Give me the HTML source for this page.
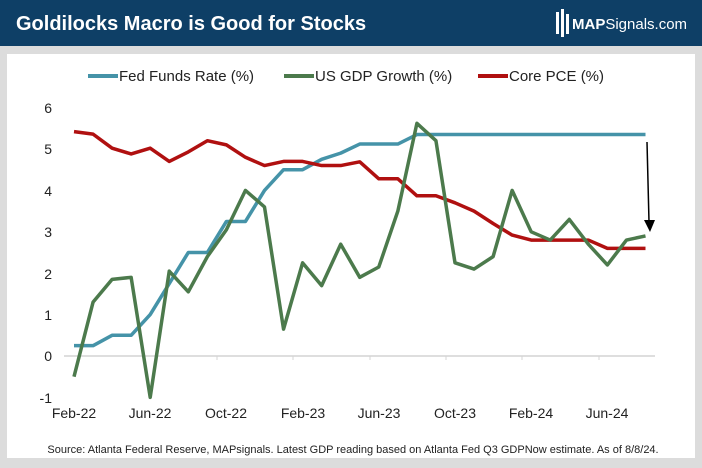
<!DOCTYPE html>
<html><head><style>
body{margin:0;width:702px;height:468px;background:#dcdcdc;font-family:"Liberation Sans",Arial,sans-serif;overflow:hidden}
</style></head><body>
<svg width="702" height="468" xmlns="http://www.w3.org/2000/svg" style="position:absolute;left:0;top:0">
<rect x="0" y="0" width="702" height="46" fill="#0e3f66"/>
<rect x="0" y="46" width="702" height="422" fill="#dcdcdc"/>
<rect x="7" y="54" width="688" height="404" fill="#ffffff"/>
<text x="16" y="30" fill="#fff" font-size="20" font-weight="bold">Goldilocks Macro is Good for Stocks</text>
<g fill="#fff"><rect x="556" y="12" width="3" height="22"/><rect x="561" y="9" width="3" height="28"/><rect x="566" y="14" width="3" height="20"/></g>
<text x="572" y="29" fill="#fff" font-size="15"><tspan font-weight="bold">MAP</tspan>Signals.com</text>
<g font-size="15" fill="#222">
<line x1="88" y1="76" x2="118" y2="76" stroke="#4593a8" stroke-width="4"/><text x="119" y="81">Fed Funds Rate (%)</text>
<line x1="284" y1="76" x2="314" y2="76" stroke="#4c7a4c" stroke-width="4"/><text x="315" y="81">US GDP Growth (%)</text>
<line x1="478" y1="76" x2="508" y2="76" stroke="#b01010" stroke-width="4"/><text x="509" y="81">Core PCE (%)</text>
</g>
<g font-size="14" fill="#222" text-anchor="end">
<text x="52" y="113">6</text><text x="52" y="154">5</text><text x="52" y="196">4</text><text x="52" y="237">3</text><text x="52" y="279">2</text><text x="52" y="320">1</text><text x="52" y="361">0</text><text x="52" y="403">-1</text>
</g>
<line x1="64" y1="356" x2="655" y2="356" stroke="#d4d4d4" stroke-width="1.5"/>
<g stroke="#d4d4d4"><line x1="217" y1="356" x2="217" y2="360"/><line x1="293" y1="356" x2="293" y2="360"/><line x1="370" y1="356" x2="370" y2="360"/><line x1="446" y1="356" x2="446" y2="360"/><line x1="522" y1="356" x2="522" y2="360"/><line x1="599" y1="356" x2="599" y2="360"/></g>
<g font-size="14" fill="#222" text-anchor="middle">
<text x="74" y="418">Feb-22</text><text x="150" y="418">Jun-22</text><text x="226" y="418">Oct-22</text><text x="303" y="418">Feb-23</text><text x="379" y="418">Jun-23</text><text x="455" y="418">Oct-23</text><text x="531" y="418">Feb-24</text><text x="607" y="418">Jun-24</text>
</g>
<g fill="none" stroke-width="3.5" stroke-linejoin="round" transform="translate(74,356) scale(19.05,-41.4)">
<polyline vector-effect="non-scaling-stroke" stroke="#4593a8" points="0,0.25 1,0.25 2,0.5 3,0.5 4,1 5,1.75 6,2.5 7,2.5 8,3.25 9,3.25 10,4 11,4.5 12,4.5 13,4.75 14,4.9 15,5.12 16,5.12 17,5.12 18,5.35 19,5.35 20,5.35 21,5.35 22,5.35 23,5.35 24,5.35 25,5.35 26,5.35 27,5.35 28,5.35 29,5.35 30,5.35"/>
<polyline vector-effect="non-scaling-stroke" stroke="#b01010" points="0,5.42 1,5.36 2,5.02 3,4.88 4,5.02 5,4.7 6,4.93 7,5.2 8,5.1 9,4.8 10,4.6 11,4.7 12,4.7 13,4.6 14,4.6 15,4.69 16,4.28 17,4.28 18,3.87 19,3.87 20,3.7 21,3.5 22,3.2 23,2.92 24,2.8 25,2.8 26,2.8 27,2.8 28,2.6 29,2.6 30,2.6"/>
<polyline vector-effect="non-scaling-stroke" stroke="#4c7a4c" points="0,-0.5 1,1.3 2,1.85 3,1.9 4,-1 5,2.05 6,1.55 7,2.4 8,3.05 9,4 10,3.6 11,0.65 12,2.25 13,1.7 14,2.7 15,1.9 16,2.15 17,3.5 18,5.62 19,5.2 20,2.25 21,2.1 22,2.4 23,4 24,3 25,2.8 26,3.3 27,2.7 28,2.2 29,2.8 30,2.9"/>
</g>
<line x1="647" y1="142" x2="649" y2="222" stroke="#000" stroke-width="1.5"/>
<polygon points="644,220 655,220 650,232" fill="#000"/>
<text x="353" y="453" font-size="11" fill="#222" text-anchor="middle">Source: Atlanta Federal Reserve, MAPsignals. Latest GDP reading based on Atlanta Fed Q3 GDPNow estimate. As of 8/8/24.</text>
</svg>
</body></html>
